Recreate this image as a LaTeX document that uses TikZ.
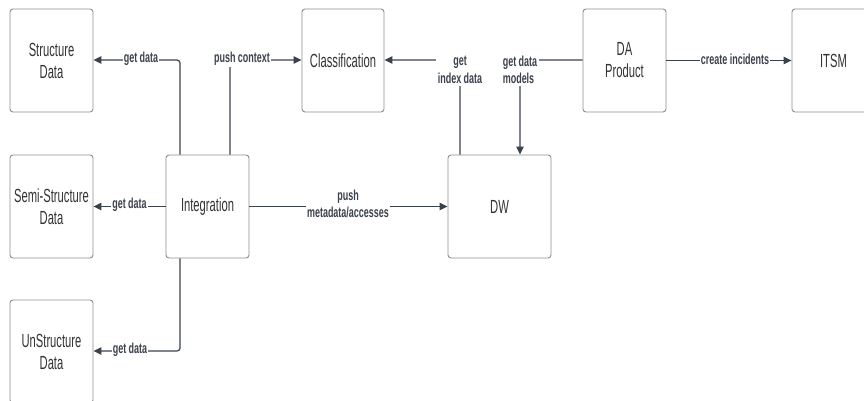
\documentclass[tikz,border=0pt]{standalone}
\usepackage{fontspec}
\setmainfont{Liberation Sans}
\newfontfamily\boxfont[FakeStretch=0.59]{Liberation Sans}
\newfontfamily\lblfont[FakeStretch=0.62,UprightFont=* Bold]{Liberation Sans}
\usetikzlibrary{arrows.meta}
\definecolor{boxline}{HTML}{8E8E8E}
\definecolor{conn}{HTML}{3B424C}
\definecolor{txt}{HTML}{333333}
\tikzset{
  blk/.style={draw=boxline, line width=0.9pt, rounded corners=3pt, fill=white,
    minimum width=83pt, minimum height=103pt, inner sep=0pt, align=center,
    font=\boxfont\fontsize{19}{22}\selectfont, text=txt},
  con/.style={draw=conn, line width=1.2pt, rounded corners=3pt},
  arr/.style={con, -{Triangle[length=8pt,width=7.5pt]}},
  lbl/.style={fill=white, inner sep=1pt, align=center,
    font=\lblfont\fontsize{14.5}{17.5}\selectfont, text=conn}
}
\begin{document}
\begin{tikzpicture}[x=1pt,y=-1pt]
\clip (0,0) rectangle (864,401);
\fill[white] (0,0) rectangle (864,401);
\node[blk] (sd) at (51.5,60.5) {Structure\\Data};
\node[blk] (ssd) at (51.5,206.5) {Semi-Structure\\Data};
\node[blk] (usd) at (51.5,351.5) {UnStructure\\Data};
\node[blk] (int) at (207.5,206.5) {Integration};
\node[blk, minimum width=82pt] (cls) at (343,60.5) {Classification};
\node[blk, minimum width=103pt] (dw) at (499.5,206.5) {DW};
\node[blk] (da) at (624.5,60.5) {DA\\Product};
\node[blk] (itsm) at (833.5,60.5) {ITSM};

\coordinate (c1) at (180,60);
\coordinate (c2) at (230,60);
\coordinate (c3) at (180,351);
\coordinate (c4) at (460,60);
\coordinate (c5) at (520,60);

% get data (structure)
\draw[arr] (int.north -| c1) -- (c1) -- (sd.east |- c1);
\node[lbl] at (141,59) {get data};
% push context
\draw[arr] (int.north -| c2) -- (c2) -- (cls.west |- c2);
\node[lbl] at (242,59) {push context};
% get data (semi)
\draw[arr] (int.west) -- (ssd.east);
\node[lbl] at (129.5,205) {get data};
% get data (unstructure)
\draw[arr] (int.south -| c3) -- (c3) -- (usd.east |- c3);
\node[lbl] at (130,350) {get data};
% push metadata
\draw[arr] (int.east) -- (dw.west);
\node[lbl] at (348,204) {push\\metadata/accesses};
% get index data
\draw[arr] (dw.north -| c4) -- (c4) -- (cls.east |- c4);
\node[lbl, inner sep=2pt] at (460,70) {get\\index data};
% get data models
\draw[arr] (da.west |- c5) -- (c5) -- (dw.north -| c5);
\node[lbl, align=left, inner sep=2pt] at (520,70) {get data\\models};
% create incidents
\draw[arr] (da.east) -- (itsm.west);
\node[lbl] at (735,59) {create incidents};
\end{tikzpicture}
\end{document}
